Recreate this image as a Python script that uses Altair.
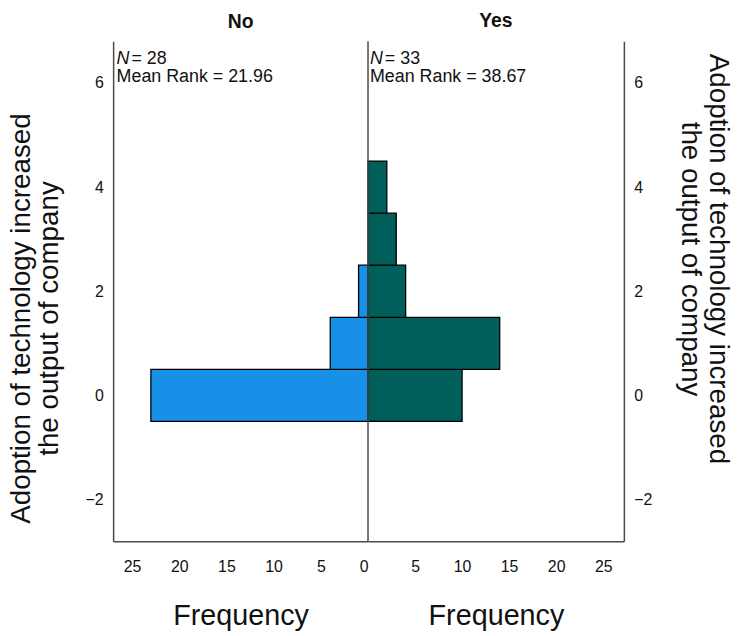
import altair as alt
import pandas as pd

# ---- data ----
ranks = [0, 1, 2, 3, 4]
no_counts = [23, 4, 1, 0, 0]
yes_counts = [10, 14, 4, 3, 2]
groups = ["No", "Yes"]
n_values = [28, 33]
mean_ranks = [21.96, 38.67]
freq_ticks = [0, 5, 10, 15, 20, 25]
rank_ticks = [-2, 0, 2, 4, 6]
rank_title = ["Adoption of technology increased", "the output of company"]
freq_title = "Frequency"
bar_colors = ["#1791E8", "#015F5B"]

FONT = "Liberation Sans"
INK = "#111111"
FRAME = "#4a4a4a"
Y_DOMAIN = [-2.8, 6.8]
PANEL_H = 504


def bins(counts):
    df = pd.DataFrame({"rank": ranks, "count": counts})
    df = df[df["count"] > 0].copy()
    df["lo"] = df["rank"] - 0.5
    df["hi"] = df["rank"] + 0.5
    return df


def panel(i, counts, width, xmax, side):
    left = side == "left"
    x_axis = alt.Axis(
        values=freq_ticks if left else freq_ticks[1:], title=freq_title, grid=False,
        ticks=False, tickSize=0, labelFont=FONT, labelFontSize=16, labelColor=INK,
        labelPadding=18, labelBaseline="top", domainColor=FRAME, domainWidth=1.5,
        titleFont=FONT, titleFontSize=29, titleFontWeight="normal", titleColor=INK,
        titleBaseline="top", titleY=61, titleAlign="center",
    )
    y_axis = alt.Axis(
        orient=side, values=rank_ticks, title=rank_title, grid=False, ticks=False,
        tickSize=0, labelFont=FONT, labelFontSize=16, labelColor=INK, labelPadding=10,
        domainColor=FRAME, domainWidth=1.5, titleFont=FONT, titleFontSize=28,
        titleFontWeight="normal", titleColor=INK, titleLineHeight=28,
        titleAngle=270 if left else 90, titleAlign="center", titleBaseline="top",
        titleX=-106 if left else 108, titleY=279 if left else 219,
    )
    x = alt.X("count:Q", scale=alt.Scale(domain=[0, xmax], reverse=left, nice=False),
              axis=x_axis)
    y = alt.Y("lo:Q", scale=alt.Scale(domain=Y_DOMAIN, nice=False, zero=False),
              axis=y_axis)
    bars = alt.Chart(bins(counts)).mark_rect(
        fill=bar_colors[i], stroke="black", strokeWidth=1.3
    ).encode(x=x, x2=alt.datum(0), y=y, y2="hi:Q")

    info = pd.DataFrame({
        "n": [f"= {n_values[i]}"],
        "mr": [f"Mean Rank = {mean_ranks[i]:.2f}"],
    })
    base = alt.Chart(info)
    dx = 3.5 if left else 2
    txt = dict(font=FONT, fontSize=18, align="left", baseline="alphabetic", color=INK)
    t_n = base.mark_text(text="N", fontStyle="italic", **txt).encode(
        x=alt.value(dx), y=alt.value(22.7))
    t_nv = base.mark_text(**txt).encode(
        x=alt.value(dx + 15), y=alt.value(22.7), text="n:N")
    t_mr = base.mark_text(**txt).encode(
        x=alt.value(dx), y=alt.value(41), text="mr:N")

    layers = [bars]
    if not left:
        layers.append(base.mark_rule(color=FRAME, strokeWidth=1.5).encode(x=alt.datum(0)))
    layers += [t_n, t_nv, t_mr]
    return alt.layer(*layers).properties(
        width=width, height=PANEL_H,
        title=alt.TitleParams(
            text=groups[i], font=FONT, fontSize=19.5, fontWeight="bold", color=INK,
            anchor="middle", frame="group", baseline="alphabetic", offset=-6,
        ),
    )


left_panel = panel(0, no_counts, 257, 27.0, "left")
right_panel = panel(1, yes_counts, 258, 27.2, "right")

chart = (
    alt.hconcat(left_panel, right_panel, spacing=0, bounds="flush")
    .properties(padding={"left": 0, "top": 0, "right": 0, "bottom": 0})
    .configure(font=FONT)
    .configure_view(stroke="transparent", strokeWidth=0)
)

chart.save("out.html", embed_options={"renderer": "svg", "actions": False})
